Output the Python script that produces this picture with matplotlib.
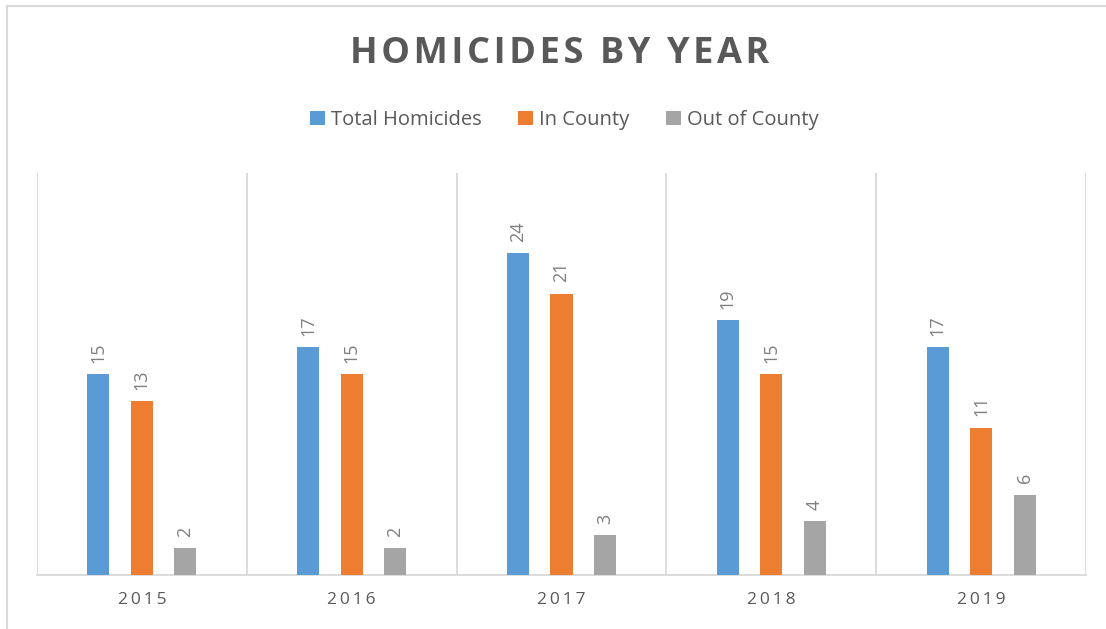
import numpy as np
import matplotlib.pyplot as plt
from matplotlib.patches import Rectangle

years = ['2015', '2016', '2017', '2018', '2019']
total = [15, 17, 24, 19, 17]
in_county = [13, 15, 21, 15, 11]
out_county = [2, 2, 3, 4, 6]
series = [('Total Homicides', total, '#5B9BD5'),
          ('In County', in_county, '#ED7D31'),
          ('Out of County', out_county, '#A5A5A5')]

plt.rcParams['font.family'] = ['Open Sans', 'DejaVu Sans']
txt = '#595959'
grid = '#D9D9D9'

fig = plt.figure(figsize=(11.06, 6.29), dpi=100)
ax = fig.add_axes([37/1106, 54/629, 1049/1106, 402/629])

# outer chart border (only top and left visible in the crop)
fig.patches.append(Rectangle((7/1106, -0.1), 1.2, (623/629) + 0.1, transform=fig.transFigure,
                             fill=False, edgecolor=grid, linewidth=1.5))

x = np.arange(len(years))
offs = [-0.207, 0, 0.207]
w = 0.105
for (name, vals, col), o in zip(series, offs):
    bars = ax.bar(x + o, vals, w, color=col, label=name, zorder=3)
    for b, v in zip(bars, vals):
        ax.annotate(str(v), (b.get_x() + b.get_width() / 2, v), xytext=(0, 8),
                    textcoords='offset points', rotation=90, ha='center', va='bottom',
                    color='#7F7F7F', fontsize=13)

ax.set_xlim(-0.5, len(years) - 0.5)
ax.set_ylim(0, 30)
ax.set_yticks([])
for b in np.arange(-0.5, len(years), 1):
    ax.axvline(b, color=grid, linewidth=1.3, zorder=1)
for s in ['top', 'right', 'left']:
    ax.spines[s].set_visible(False)
ax.spines['bottom'].set_color(grid)
ax.spines['bottom'].set_linewidth(1.3)
ax.set_xticks(x)
ax.set_xticklabels([' '.join(y).replace(' ', '\u2009') for y in years], color=txt, fontsize=12.5)
ax.tick_params(axis='x', length=0, pad=12)

fig.text(0.506, 1 - 54/629, '\u200a'.join('HOMICIDES BY YEAR'), ha='center', va='center',
         fontsize=26, fontweight='bold', color=txt)
leg = fig.legend(loc='center', bbox_to_anchor=(0.51, 1 - 120/629), ncol=3, frameon=False,
                 fontsize=14.5, handlelength=0.75, handleheight=0.75, handletextpad=0.3,
                 columnspacing=1.8)
for t in leg.get_texts():
    t.set_color(txt)

fig.savefig('out.png', dpi=100)
